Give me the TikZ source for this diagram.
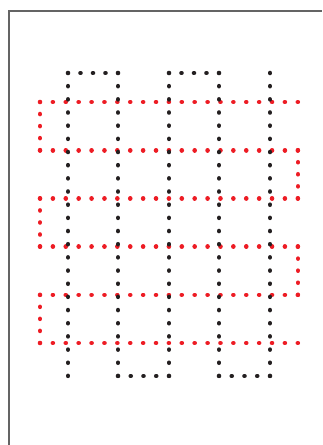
\documentclass[tikz,border=0pt]{standalone}
\definecolor{dotblack}{RGB}{35,31,32}
\definecolor{dotred}{RGB}{237,28,36}
\definecolor{framegray}{RGB}{100,100,100}
\begin{document}
\begin{tikzpicture}[x=1pt,y=-1pt]
    \tikzset{
        seg/.style={line width=4.6pt, line cap=round, dash pattern=on 0.01pt off #1},
        blk/.style={seg=#1, draw=dotblack},
        rd/.style={seg=#1, draw=dotred},
        frame/.style={draw=framegray, line width=1.4pt}
    }
    \useasboundingbox (0,0) rectangle (322,445);
    \draw[frame] (9,445) -- (9,11) -- (322,11);

    % red meander
    \foreach \y in {102,150.2,198.4,246.6,294.8,343}{
        \draw[rd=12.88] (40,\y) -- (298,\y);
    }
    \foreach \ya/\yb in {102/150.2, 198.4/246.6, 294.8/343}{
        \draw[rd=12.03] (40,\ya) -- (40,\yb);
    }
    \foreach \ya/\yb in {150.2/198.4, 246.6/294.8}{
        \draw[rd=12.03] (298,\ya) -- (298,\yb);
    }

    % black meander
    \foreach \x in {68,118,169,219,270}{
        \draw[blk=13.16] (\x,73) -- (\x,376);
    }
    \foreach \xa/\xb in {68/118, 169/219}{
        \draw[blk=12.48] (\xa,73) -- (\xb,73);
    }
    \foreach \xa/\xb in {118/169, 219/270}{
        \draw[blk=12.73] (\xa,376) -- (\xb,376);
    }
\end{tikzpicture}
\end{document}
